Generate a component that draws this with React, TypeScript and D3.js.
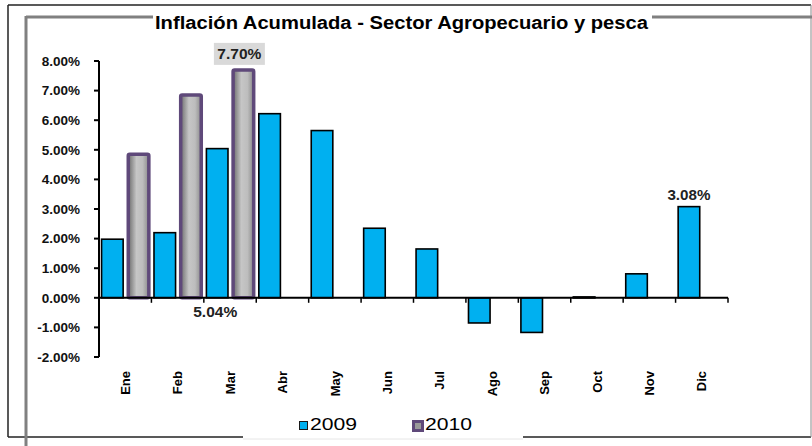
import React, { useEffect } from 'react';
import * as d3 from 'd3';

const title = 'Inflación Acumulada - Sector Agropecuario y pesca';
const months = ['Ene', 'Feb', 'Mar', 'Abr', 'May', 'Jun', 'Jul', 'Ago', 'Sep', 'Oct', 'Nov', 'Dic'];
const seriesNames = ['2009', '2010'];
const values2009: (number | null)[] = [1.98, 2.2, 5.04, 6.22, 5.65, 2.35, 1.65, -0.85, -1.17, 0.03, 0.81, 3.08];
const values2010: (number | null)[] = [4.85, 6.85, 7.7, null, null, null, null, null, null, null, null, null];
const yTicks = [-2, -1, 0, 1, 2, 3, 4, 5, 6, 7, 8];
const dataLabels = [
  { month: 'Mar', series: '2010', text: '7.70%', place: 'boxAbove' },
  { month: 'Mar', series: '2009', text: '5.04%', place: 'belowAxis' },
  { month: 'Dic', series: '2009', text: '3.08%', place: 'above' },
];

const W = 812;
const H = 446;
const FONT = '"Liberation Sans", Arial, sans-serif';
const NARROW = '"Liberation Sans Narrow", "Arial Narrow", "Liberation Sans", Arial, sans-serif';
const BLUE = '#00B0F0';
const PURPLE = '#5F497A';

export default function App() {
  useEffect(() => {
    document.body.style.margin = '0';
  }, []);

  const x = d3.scaleBand<string>().domain(months).range([99, 728]).paddingInner(0).paddingOuter(0);
  const xs = d3.scaleBand<string>().domain(seriesNames).range([0, x.bandwidth()]).paddingInner(0.16).paddingOuter(0.1);
  const y = d3.scaleLinear().domain([-2, 8]).range([357, 61]);

  const bars: { m: string; s: string; v: number }[] = [];
  months.forEach((m, i) => {
    const a = values2009[i];
    const b = values2010[i];
    if (a !== null) bars.push({ m, s: '2009', v: a });
    if (b !== null) bars.push({ m, s: '2010', v: b });
  });

  const barX = (m: string, s: string) => (x(m) as number) + (xs(s) as number);
  const bw = xs.bandwidth();
  const findVal = (m: string, s: string) => {
    const i = months.indexOf(m);
    return (s === '2009' ? values2009[i] : values2010[i]) as number;
  };

  return (
    <svg width={W} height={H} style={{ position: 'absolute', left: 0, top: 0, background: '#fff' }} fontFamily={FONT}>
      <defs>
        <linearGradient id="grayGrad" x1="0" x2="1" y1="0" y2="0">
          <stop offset="0" stopColor="#6c6c6c" />
          <stop offset="0.4" stopColor="#c6c6c6" />
          <stop offset="0.7" stopColor="#bdbdbd" />
          <stop offset="1" stopColor="#8a8a8a" />
        </linearGradient>
      </defs>
      <rect x={0} y={0} width={W} height={H} fill="#fff" />
      {/* outer frame */}
      <line x1={8} y1={5} x2={811} y2={5} stroke="#222" strokeWidth={1.5} />
      <line x1={8} y1={5} x2={8} y2={437} stroke="#222" strokeWidth={1.5} />
      <line x1={8} y1={437} x2={811} y2={437} stroke="#222" strokeWidth={1.5} />
      <line x1={811} y1={5} x2={811} y2={437} stroke="#888" strokeWidth={1} />
      {/* inner gray frame */}
      <line x1={26} y1={17} x2={812} y2={17} stroke="#808080" strokeWidth={3} />
      <line x1={26} y1={16} x2={26} y2={446} stroke="#808080" strokeWidth={3} />

      {/* title */}
      <rect x={153} y={12} width={499} height={24} fill="#fff" />
      <text x={155} y={29} fontFamily={NARROW} fontSize={18} fontWeight="bold" fill="#000" textLength={493} lengthAdjust="spacingAndGlyphs">
        {title}
      </text>

      {/* y axis */}
      <line x1={99} y1={y(8)} x2={99} y2={y(-2)} stroke="#000" strokeWidth={2} />
      {yTicks.map((t) => (
        <g key={t}>
          <line x1={94} x2={99} y1={y(t)} y2={y(t)} stroke="#000" strokeWidth={2} />
          <text x={80} y={y(t)} dy="0.36em" textAnchor="end" fontSize={13.5} fontWeight="bold" fill="#111">
            {t.toFixed(2) + '%'}
          </text>
        </g>
      ))}

      {/* bars */}
      {bars.map((d) => {
        const x0 = barX(d.m, d.s);
        const top = y(Math.max(0, d.v));
        const h = Math.abs(y(d.v) - y(0));
        if (d.s === '2009') {
          return (
            <rect key={d.m + d.s} x={x0} y={top} width={bw} height={Math.max(h, 1)} fill={BLUE} stroke="#000" strokeWidth={1.6} />
          );
        }
        return (
          <rect key={d.m + d.s} x={x0 + 1} y={top} width={bw - 1} height={h} fill="url(#grayGrad)" stroke={PURPLE} strokeWidth={3.5} rx={1.5} />
        );
      })}

      {/* x axis */}
      <line x1={99} x2={728} y1={y(0)} y2={y(0)} stroke="#000" strokeWidth={2} />
      {months.concat(['_end']).map((m, i) => {
        const tx = i < months.length ? (x(m) as number) : 728;
        return <line key={'t' + i} x1={tx} x2={tx} y1={y(0)} y2={y(0) + 5} stroke="#000" strokeWidth={1.5} />;
      })}
      {months.map((m) => {
        const cx = (x(m) as number) + x.bandwidth() / 2;
        return (
          <text key={'l' + m} transform={`translate(${cx},371) rotate(-90)`} textAnchor="end" dy="0.36em" fontSize={13} fontWeight="bold" fill="#000">
            {m}
          </text>
        );
      })}

      {/* data labels */}
      {dataLabels.map((l) => {
        const cx = barX(l.month, l.series) + bw / 2;
        const v = findVal(l.month, l.series);
        if (l.place === 'boxAbove') {
          return (
            <g key={l.text}>
              <rect x={cx - 29} y={y(v) - 27} width={51} height={22} fill="#d9d9d9" />
              <text x={cx - 3.5} y={y(v) - 11} textAnchor="middle" fontSize={14.5} fontWeight="bold" fill="#222" textLength={44} lengthAdjust="spacingAndGlyphs">
                {l.text}
              </text>
            </g>
          );
        }
        if (l.place === 'belowAxis') {
          return (
            <text key={l.text} x={cx - 2} y={y(0) + 19} textAnchor="middle" fontSize={14.5} fontWeight="bold" fill="#222" textLength={44} lengthAdjust="spacingAndGlyphs">
              {l.text}
            </text>
          );
        }
        return (
          <text key={l.text} x={cx} y={y(v) - 7} textAnchor="middle" fontSize={14.5} fontWeight="bold" fill="#222" textLength={43} lengthAdjust="spacingAndGlyphs">
            {l.text}
          </text>
        );
      })}

      {/* legend */}
      <rect x={243} y={405} width={280} height={34} fill="#fff" />
      <line x1={243} x2={523} y1={439} y2={439} stroke="#e6e6e6" strokeWidth={1} />
      <rect x={299.5} y={421.5} width={8} height={8} fill={BLUE} stroke="#1a1a1a" strokeWidth={1} />
      <text x={310} y={430} fontSize={16} fill="#000" textLength={47} lengthAdjust="spacingAndGlyphs">
        {seriesNames[0]}
      </text>
      <rect x={413.5} y={421.5} width={9} height={9} fill="#9a9a9a" stroke={PURPLE} strokeWidth={3} />
      <text x={425} y={430} fontSize={16} fill="#000" textLength={47} lengthAdjust="spacingAndGlyphs">
        {seriesNames[1]}
      </text>
    </svg>
  );
}
